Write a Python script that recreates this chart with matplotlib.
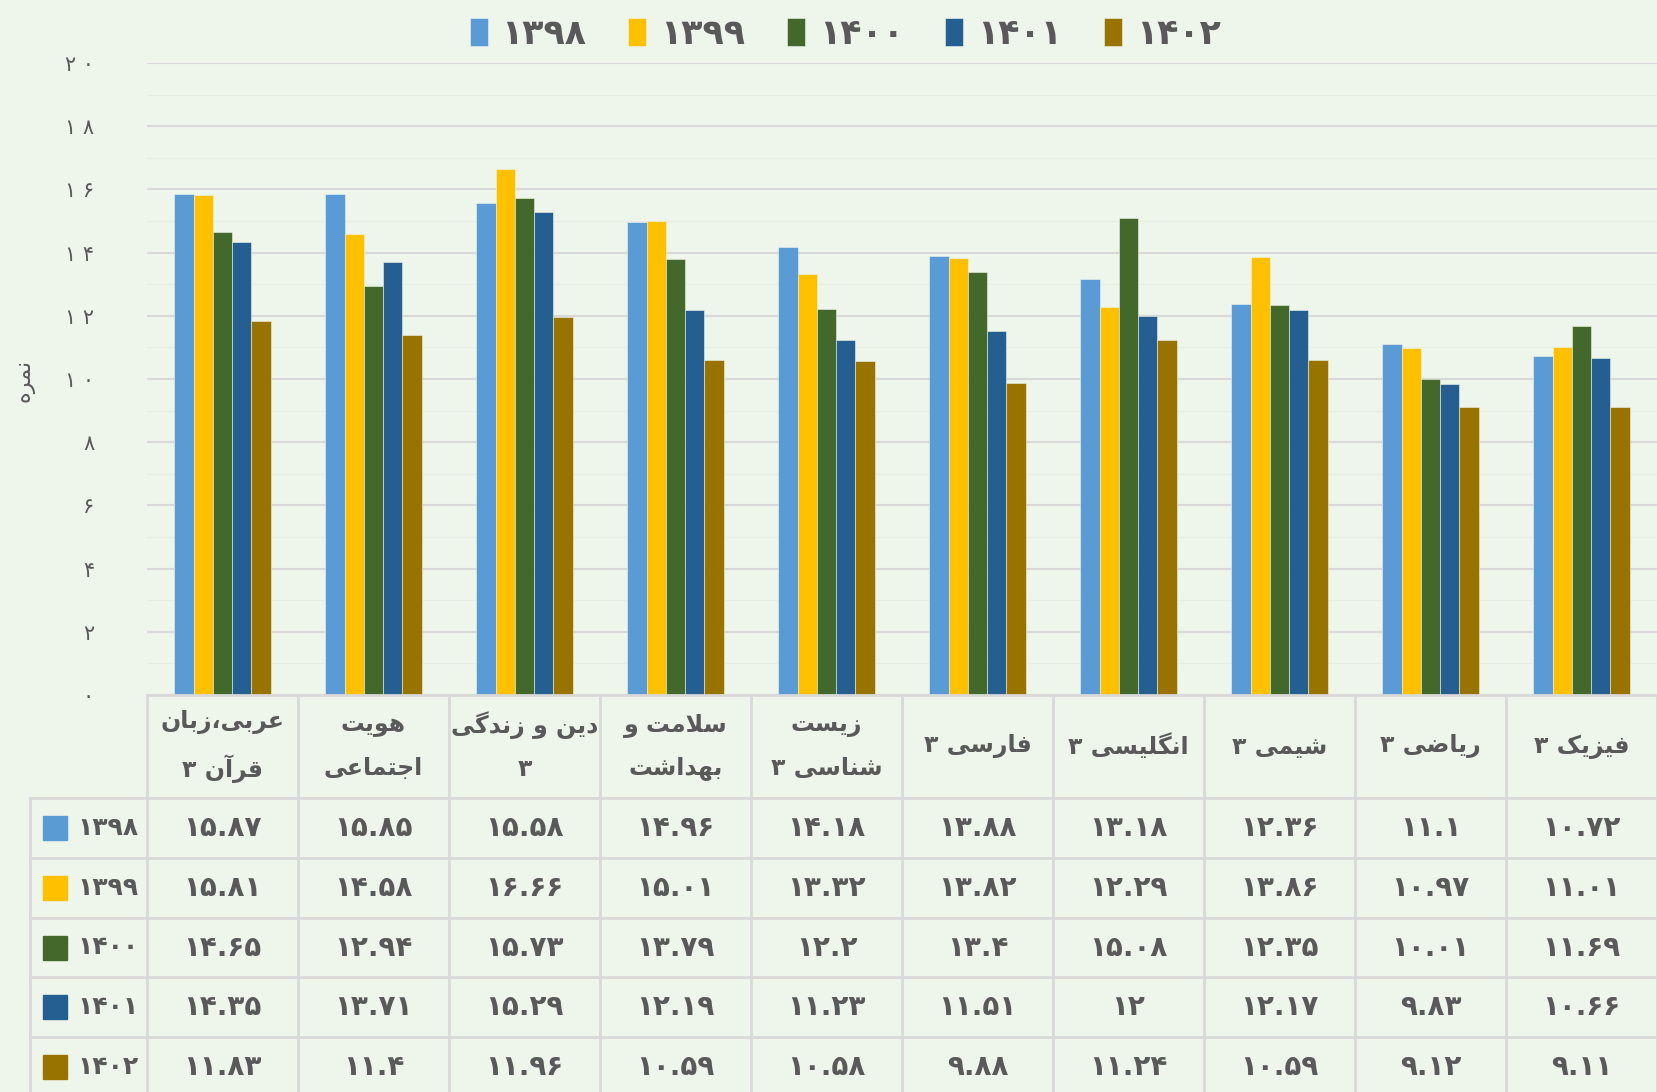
import numpy as np
import matplotlib.pyplot as plt
from matplotlib.patches import Rectangle

W, H = 1657, 1092
BG = '#EEF5EA'
TXT = '#595959'
GRID = '#D9D9D9'

categories = ['عربی،زبان\nقرآن ۳', 'هویت\nاجتماعی', 'دین و زندگی\n۳', 'سلامت و\nبهداشت',
              'زیست\nشناسی ۳', 'فارسی ۳', 'انگلیسی ۳', 'شیمی ۳', 'ریاضی ۳', 'فیزیک ۳']
years = ['1398', '1399', '1400', '1401', '1402']
scores_1398 = [15.87, 15.85, 15.58, 14.96, 14.18, 13.88, 13.18, 12.36, 11.1, 10.72]
scores_1399 = [15.81, 14.58, 16.66, 15.01, 13.32, 13.82, 12.29, 13.86, 10.97, 11.01]
scores_1400 = [14.65, 12.94, 15.73, 13.79, 12.2, 13.4, 15.08, 12.35, 10.01, 11.69]
scores_1401 = [14.35, 13.71, 15.29, 12.19, 11.23, 11.51, 12, 12.17, 9.83, 10.66]
scores_1402 = [11.83, 11.4, 11.96, 10.59, 10.58, 9.88, 11.24, 10.59, 9.12, 9.11]
series = [scores_1398, scores_1399, scores_1400, scores_1401, scores_1402]
colors = ['#5B9BD5', '#FFC000', '#43682B', '#255E91', '#997300']

# matplotlib has no arabic shaping, so pick the presentation forms by hand
# (isolated, final, initial, medial)
FORMS = {
    'ا': ('\uFE8D', '\uFE8E'), 'آ': ('\uFE81', '\uFE82'),
    'د': ('\uFEA9', '\uFEAA'), 'ر': ('\uFEAD', '\uFEAE'),
    'ز': ('\uFEAF', '\uFEB0'), 'و': ('\uFEED', '\uFEEE'),
    'ب': ('\uFE8F', '\uFE90', '\uFE91', '\uFE92'),
    'ت': ('\uFE95', '\uFE96', '\uFE97', '\uFE98'),
    'ج': ('\uFE9D', '\uFE9E', '\uFE9F', '\uFEA0'),
    'س': ('\uFEB1', '\uFEB2', '\uFEB3', '\uFEB4'),
    'ش': ('\uFEB5', '\uFEB6', '\uFEB7', '\uFEB8'),
    'ض': ('\uFEBD', '\uFEBE', '\uFEBF', '\uFEC0'),
    'ع': ('\uFEC9', '\uFECA', '\uFECB', '\uFECC'),
    'ف': ('\uFED1', '\uFED2', '\uFED3', '\uFED4'),
    'ق': ('\uFED5', '\uFED6', '\uFED7', '\uFED8'),
    'ل': ('\uFEDD', '\uFEDE', '\uFEDF', '\uFEE0'),
    'م': ('\uFEE1', '\uFEE2', '\uFEE3', '\uFEE4'),
    'ن': ('\uFEE5', '\uFEE6', '\uFEE7', '\uFEE8'),
    'ه': ('\uFEE9', '\uFEEA', '\uFEEB', '\uFEEC'),
    'ی': ('\uFBFC', '\uFBFD', '\uFBFE', '\uFBFF'),
    'ک': ('\uFB8E', '\uFB8F', '\uFB90', '\uFB91'),
    'گ': ('\uFB92', '\uFB93', '\uFB94', '\uFB95'),
}
LAM_ALEF = {'ا': ('\uFEFB', '\uFEFC'), 'آ': ('\uFEF5', '\uFEF6')}


def joins_next(c):
    return c in FORMS and len(FORMS[c]) == 4


def shape(s):
    out = []
    i = 0
    while i < len(s):
        c = s[i]
        if c not in FORMS:
            out.append(c)
            i += 1
            continue
        jp = i > 0 and joins_next(s[i - 1])
        if c == 'ل' and i + 1 < len(s) and s[i + 1] in LAM_ALEF:
            out.append(LAM_ALEF[s[i + 1]][1 if jp else 0])
            i += 2
            continue
        jn = joins_next(c) and i + 1 < len(s) and s[i + 1] in FORMS
        f = FORMS[c]
        if jp and jn:
            out.append(f[3])
        elif jp:
            out.append(f[1])
        elif jn:
            out.append(f[2])
        else:
            out.append(f[0])
        i += 1
    return ''.join(reversed(out))


def fa(s):
    return str(s).translate(str.maketrans('0123456789', '۰۱۲۳۴۵۶۷۸۹'))


def fmt(v):
    return fa(f'{v:g}')


plt.rcParams['font.family'] = ['DejaVu Sans']

fig = plt.figure(figsize=(W / 100, H / 100), dpi=100, facecolor=BG)

# chart area
top_px, base_px, left_px = 63, 695, 147
ax = fig.add_axes([left_px / W, 1 - base_px / H, (W - left_px) / W, (base_px - top_px) / H])
ax.set_facecolor(BG)
x = np.arange(len(categories))
bw = 0.128
bars = []
for i, vals in enumerate(series):
    b = ax.bar(x + (i - 2) * bw, vals, bw, color=colors[i], edgecolor=BG, linewidth=0.4, zorder=3)
    bars.append(b)
ax.set_xlim(-0.5, len(categories) - 0.5)
ax.set_ylim(0, 20)
ax.set_yticks(range(0, 21, 2))
ax.set_yticklabels([' '.join(fa(v)) for v in range(0, 21, 2)], color=TXT, fontsize=15)
ax.set_yticks(range(1, 20, 2), minor=True)
ax.tick_params(axis='y', length=0, pad=38, which='both')
ax.set_xticks([])
ax.grid(axis='y', which='major', color=GRID, linewidth=1.5, zorder=0)
ax.grid(axis='y', which='minor', color='#E7EEE3', linewidth=0.8, zorder=0)
for sp in ax.spines.values():
    sp.set_visible(False)

fig.text(24 / W, 1 - 380 / H, shape('نمره'), rotation=90, ha='center', va='center',
         color=TXT, fontsize=16)

fig.legend([b[0] for b in bars], [fa(y) for y in years], loc='upper center',
           bbox_to_anchor=(0.51, 1.013), ncol=5, frameon=False,
           prop={'size': 25, 'weight': 'bold'}, labelcolor=TXT,
           handlelength=0.52, handleheight=0.85, handletextpad=0.4, columnspacing=1.2)

# data table under the chart, y in image pixels
tax = fig.add_axes([left_px / W, 0, (W - left_px) / W, (H - base_px) / H])
tax.set_xlim(-0.5, len(categories) - 0.5)
tax.set_ylim(H, base_px)
tax.axis('off')
hdr_bottom = 798
row_h = 59.8
col_left = -0.5 - (left_px - 30) / 151
row_edges = [hdr_bottom + k * row_h for k in range(len(years) + 1)]

tax.plot([-0.5, len(categories) - 0.5], [base_px, base_px], color=GRID, lw=2, clip_on=False)
for y in row_edges:
    tax.plot([col_left, len(categories) - 0.5], [y, y], color=GRID, lw=2, clip_on=False)
for k in range(len(categories) + 1):
    tax.plot([k - 0.5, k - 0.5], [base_px, H], color=GRID, lw=2, clip_on=False)
tax.plot([col_left, col_left], [hdr_bottom, H], color=GRID, lw=2, clip_on=False)

for k, cat in enumerate(categories):
    lab = '\n'.join(shape(fa(line)) for line in cat.split('\n'))
    tax.text(k, (base_px + hdr_bottom) / 2, lab, ha='center', va='center', color=TXT,
             fontsize=17, weight='bold', linespacing=1.95, clip_on=False)

for r, (yr, vals) in enumerate(zip(years, series)):
    yc = row_edges[r] + row_h / 2
    tax.add_patch(Rectangle((col_left + 13 / 151, yc - 12), 24 / 151, 24, color=colors[r],
                            clip_on=False))
    tax.text(-0.5 - 8 / 151, yc, fa(yr), ha='right', va='center', color=TXT,
             fontsize=18, weight='bold', clip_on=False)
    for k, v in enumerate(vals):
        tax.text(k, yc, fmt(v), ha='center', va='center', color=TXT, fontsize=20,
                 weight='bold', clip_on=False)

fig.savefig('out.png', dpi=100, facecolor=BG)
